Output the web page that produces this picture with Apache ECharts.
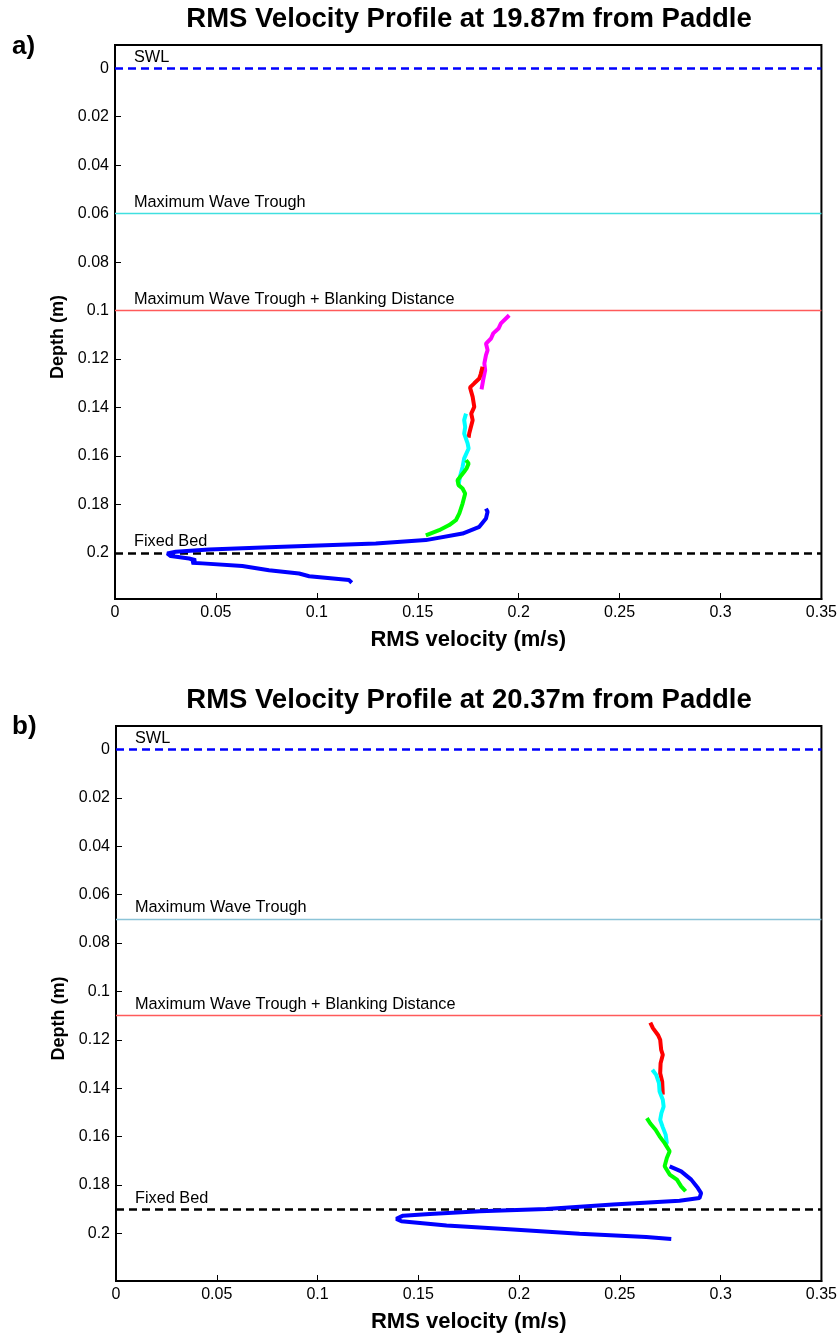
<!DOCTYPE html>
<html><head><meta charset="utf-8">
<script src="https://cdn.jsdelivr.net/npm/echarts@6/dist/echarts.min.js"></script>
<style>html,body{margin:0;padding:0;background:#fff}#c{width:840px;height:1334px}</style>
</head><body><div id="c"></div>
<script>
// ---- Data: [RMS velocity (m/s), depth (m)] ----
const titles = ['RMS Velocity Profile at 19.87m from Paddle', 'RMS Velocity Profile at 20.37m from Paddle'];
const panelLabels = ['a)', 'b)'];
const xTicks = [0, 0.05, 0.1, 0.15, 0.2, 0.25, 0.3, 0.35];
const yTicks = [0, 0.02, 0.04, 0.06, 0.08, 0.1, 0.12, 0.14, 0.16, 0.18, 0.2];
const refNames = ['SWL', 'Maximum Wave Trough', 'Maximum Wave Trough + Blanking Distance', 'Fixed Bed'];
const refA = [0, 0.0623, 0.102, 0.2];
const refB = [0, 0.0685, 0.1085, 0.1913];

const aMagenta = [[0.1953,0.1019],[0.1912,0.1053],[0.1900,0.1074],[0.1874,0.1094],[0.1863,0.1115],[0.1838,0.1136],[0.1846,0.1163],[0.1838,0.1184],[0.1830,0.1218],[0.1834,0.1246],[0.1824,0.1287],[0.1816,0.1325]];
const aRed = [[0.1821,0.1232],[0.1812,0.1262],[0.1805,0.1280],[0.1780,0.1300],[0.1759,0.1317],[0.1772,0.1356],[0.1780,0.1397],[0.1765,0.1425],[0.1772,0.1452],[0.1755,0.1507],[0.1752,0.1524]];
const aCyan = [[0.1739,0.1425],[0.1730,0.1452],[0.1735,0.1480],[0.1730,0.1507],[0.1747,0.1548],[0.1752,0.1569],[0.1730,0.1610],[0.1722,0.1645],[0.1709,0.1686],[0.1702,0.1720]];
const aGreen = [[0.1739,0.1617],[0.1752,0.1631],[0.1742,0.1651],[0.1730,0.1665],[0.1697,0.1700],[0.1702,0.1720],[0.1722,0.1734],[0.1735,0.1755],[0.1722,0.1796],[0.1706,0.1837],[0.1689,0.1865],[0.1656,0.1885],[0.1606,0.1906],[0.1540,0.1927]];
const aBlue = [[0.1838,0.1817],[0.1846,0.1830],[0.1838,0.1858],[0.1805,0.1892],[0.1722,0.1920],[0.1540,0.1947],[0.1292,0.1961],[0.0797,0.1975],[0.0466,0.1986],[0.0301,0.1995],[0.0259,0.2002],[0.0276,0.2013],[0.0367,0.2023],[0.0400,0.2030],[0.0380,0.2040],[0.0433,0.2043],[0.0631,0.2054],[0.0763,0.2071],[0.0912,0.2085],[0.0962,0.2096],[0.1160,0.2112],[0.1173,0.2123]];

const bRed = [[0.2651,0.1129],[0.2664,0.1152],[0.2689,0.1180],[0.2700,0.1200],[0.2705,0.1242],[0.2713,0.1262],[0.2702,0.1297],[0.2700,0.1338],[0.2710,0.1373],[0.2713,0.1427]];
const bCyan = [[0.2661,0.1324],[0.2680,0.1345],[0.2694,0.1379],[0.2697,0.1414],[0.2713,0.1448],[0.2717,0.1476],[0.2706,0.1503],[0.2700,0.1531],[0.2713,0.1562],[0.2727,0.1592],[0.2733,0.1627],[0.2722,0.1634]];
const bGreen = [[0.2634,0.1524],[0.2650,0.1545],[0.2677,0.1572],[0.2697,0.1599],[0.2722,0.1627],[0.2747,0.1661],[0.2733,0.1689],[0.2722,0.1723],[0.2747,0.1757],[0.2783,0.1778],[0.2804,0.1806],[0.2826,0.1826]];
const bBlue = [[0.2747,0.1723],[0.2804,0.1744],[0.2854,0.1778],[0.2887,0.1813],[0.2903,0.1834],[0.2895,0.1854],[0.2796,0.1865],[0.2466,0.1881],[0.2135,0.1899],[0.1805,0.1909],[0.1557,0.1920],[0.1424,0.1927],[0.1391,0.1940],[0.1416,0.1950],[0.1640,0.1968],[0.1970,0.1984],[0.2300,0.2002],[0.2631,0.2015],[0.2755,0.2023]];

// ---- Styling / layout ----
const FONT = "'Liberation Sans', Arial, sans-serif";
const fmt = v => String(Number(v.toFixed(3)));
const grids = [
  {left: 115, top: 45, width: 707, height: 554, yMin: -0.0096, yMax: 0.219, titleY: 19, labY: 47},
  {left: 116, top: 726, width: 706, height: 556, yMin: -0.0097, yMax: 0.2197, titleY: 700, labY: 727}
];
const refStyles = [
  {color: '#0000ff', width: 2.5, type: [8, 5]},
  null,
  {color: '#ff5a5a', width: 1.3, type: 'solid'},
  {color: '#000000', width: 2.5, type: [8, 5]}
];
const troughColors = ['#40e0e0', '#8cc4d8'];

function refLines(vals, gi) {
  return vals.map((v, i) => {
    const ls = i === 1 ? {color: troughColors[gi], width: 1.3, type: 'solid', opacity: 1} : Object.assign({opacity: 1}, refStyles[i]);
    return {
      yAxis: v,
      lineStyle: ls,
      label: {show: true, formatter: refNames[i], position: 'insideStartTop', distance: [19, 3],
        color: '#000', fontSize: 16.3, fontFamily: FONT}
    };
  });
}

function curve(data, color, gi, mark) {
  const s = {type: 'line', data: data, xAxisIndex: gi, yAxisIndex: gi, showSymbol: false, symbol: 'none',
    lineStyle: {color: color, width: 4}, itemStyle: {color: color}, z: 3, silent: true, animation: false};
  if (mark) s.markLine = {symbol: ['none', 'none'], silent: true, animation: false, z: 2, data: mark,
    emphasis: {disabled: true}};
  return s;
}

const option = {
  animation: false,
  backgroundColor: '#fff',
  textStyle: {fontFamily: FONT},
  grid: grids.map(g => ({left: g.left, top: g.top, width: g.width, height: g.height, show: true,
    borderColor: '#000', borderWidth: 2, backgroundColor: '#fff', containLabel: false})),
  xAxis: grids.map((g, i) => ({
    type: 'value', gridIndex: i, min: 0, max: 0.35, interval: 0.05,
    name: 'RMS velocity (m/s)', nameLocation: 'middle', nameGap: 30,
    nameTextStyle: {fontSize: 22, fontWeight: 'bold', color: '#000', fontFamily: FONT},
    axisLine: {show: true, onZero: false, lineStyle: {color: '#000', width: 2}},
    axisTick: {show: true, inside: true, length: 6, lineStyle: {color: '#000', width: 1}},
    axisLabel: {color: '#000', fontSize: 16, margin: 6, fontFamily: FONT, formatter: fmt, showMinLabel: true, showMaxLabel: true},
    splitLine: {show: false}
  })),
  yAxis: grids.map((g, i) => ({
    type: 'value', gridIndex: i, inverse: true, min: g.yMin, max: g.yMax,
    name: 'Depth (m)', nameLocation: 'middle', nameGap: 46,
    nameTextStyle: {fontSize: 18, fontWeight: 'bold', color: '#000', fontFamily: FONT, padding: [0, 30, 0, 0]},
    axisLine: {show: true, onZero: false, lineStyle: {color: '#000', width: 2}},
    axisTick: {show: true, inside: true, length: 6, lineStyle: {color: '#000', width: 1}, customValues: yTicks},
    axisLabel: {color: '#000', fontSize: 16, margin: 6, fontFamily: FONT, formatter: fmt, customValues: yTicks},
    splitLine: {show: false}
  })),
  graphic: [].concat(...grids.map((g, i) => [
    {type: 'text', x: 469, y: g.titleY, style: {text: titles[i], font: "bold 27.5px " + FONT, fill: '#000', textAlign: 'center', textVerticalAlign: 'middle'}},
    {type: 'text', x: 12, y: g.labY, style: {text: panelLabels[i], font: "bold 26px " + FONT, fill: '#000', textVerticalAlign: 'middle'}}
  ])),
  series: [
    curve(aMagenta, '#ff00ff', 0, refLines(refA, 0)),
    curve(aRed, '#ff0000', 0),
    curve(aCyan, '#00ffff', 0),
    curve(aGreen, '#00ff00', 0),
    curve(aBlue, '#0000ff', 0),
    curve(bRed, '#ff0000', 1, refLines(refB, 1)),
    curve(bCyan, '#00ffff', 1),
    curve(bGreen, '#00ff00', 1),
    curve(bBlue, '#0000ff', 1)
  ]
};
const chart = echarts.init(document.getElementById('c'), null, {renderer: 'canvas'});
chart.setOption(option);
</script></body></html>
